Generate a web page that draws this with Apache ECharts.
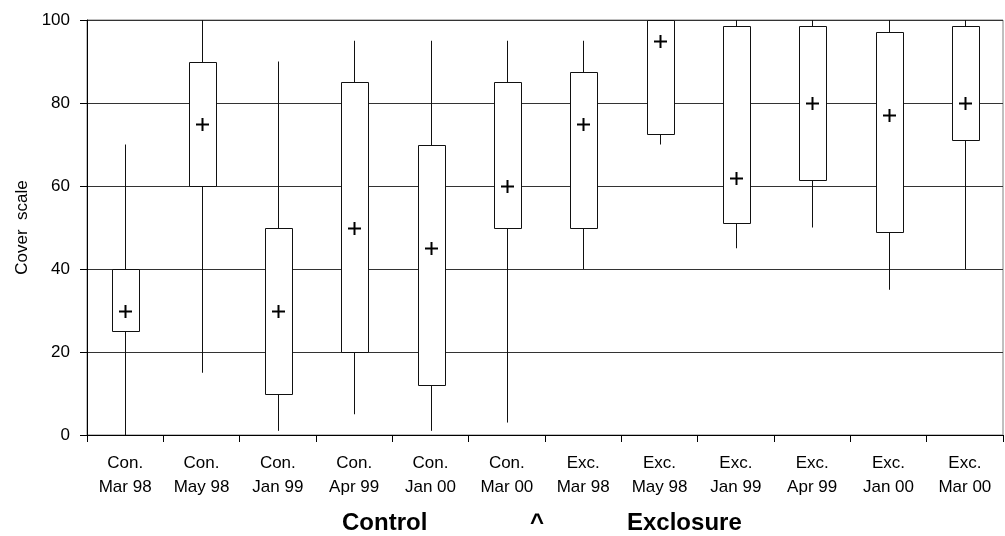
<!DOCTYPE html>
<html>
<head>
<meta charset="utf-8">
<script src="https://cdn.jsdelivr.net/npm/echarts@6/dist/echarts.min.js"></script>
<style>
  html, body { margin: 0; padding: 0; background: #fff; }
  #chart { width: 1005px; height: 536px; }
</style>
</head>
<body>
<div id="chart"></div>
<script>
// Sampling dates per treatment (Control, then Exclosure)
const categories = [
  'Con.\nMar 98', 'Con.\nMay 98', 'Con.\nJan 99', 'Con.\nApr 99', 'Con.\nJan 00', 'Con.\nMar 00',
  'Exc.\nMar 98', 'Exc.\nMay 98', 'Exc.\nJan 99', 'Exc.\nApr 99', 'Exc.\nJan 00', 'Exc.\nMar 00'
];
// Whisker ends, box ends and the central "+" value of each cover-scale distribution
const whiskerLow  = [0, 15, 1, 5, 1, 3, 40, 70, 45, 50, 35, 40];
const boxLow      = [25, 60, 10, 20, 12, 50, 50, 72.5, 51, 61.5, 49, 71];
const boxHigh     = [40, 90, 50, 85, 70, 85, 87.5, 100, 98.5, 98.5, 97, 98.5];
const whiskerHigh = [70, 100, 90, 95, 95, 95, 95, 100, 100, 100, 100, 100];
const centerMark  = [30, 75, 30, 50, 45, 60, 75, 95, 62, 80, 77, 80];
const yTicks = { min: 0, max: 100, interval: 20 };
const groupLabels = ['Control', '^', 'Exclosure'];

const FONT = '"Liberation Sans", Arial, sans-serif';

const boxData = categories.map((c, i) => [
  i, whiskerLow[i], boxLow[i], boxHigh[i], whiskerHigh[i], centerMark[i]
]);

function renderBox(params, api) {
  const i = api.value(0);
  const pLo = api.coord([i, api.value(1)]);
  const pQ1 = api.coord([i, api.value(2)]);
  const pQ3 = api.coord([i, api.value(3)]);
  const pHi = api.coord([i, api.value(4)]);
  const pMk = api.coord([i, api.value(5)]);
  const bw = api.size([1, 0])[0] * 0.36;
  const cx = Math.round(pLo[0]) + 0.5;
  const half = 6.5;
  const my = Math.round(pMk[1]) + 0.5;
  return {
    type: 'group',
    children: [
      {
        type: 'line',
        shape: { x1: cx, y1: pLo[1], x2: cx, y2: pHi[1] },
        style: { stroke: '#111', lineWidth: 1 }
      },
      {
        type: 'rect',
        shape: {
          x: Math.round(cx - bw / 2) + 0.5,
          y: Math.round(pQ3[1]) + 0.5,
          width: Math.round(bw),
          height: Math.round(pQ1[1]) - Math.round(pQ3[1])
        },
        style: { fill: '#fff', stroke: '#111', lineWidth: 1 }
      },
      {
        type: 'line',
        shape: { x1: cx - half, y1: my, x2: cx + half, y2: my },
        style: { stroke: '#000', lineWidth: 2 }
      },
      {
        type: 'line',
        shape: { x1: cx, y1: my - half, x2: cx, y2: my + half },
        style: { stroke: '#000', lineWidth: 2 }
      }
    ]
  };
}

const chart = echarts.init(document.getElementById('chart'), null, { renderer: 'canvas' });

chart.setOption({
  animation: false,
  backgroundColor: '#fff',
  grid: {
    left: 87, right: 2, top: 20, bottom: 101,
    show: true, borderColor: '#808080', borderWidth: 1, backgroundColor: 'transparent'
  },
  xAxis: {
    type: 'category',
    data: categories,
    boundaryGap: true,
    axisLine: { lineStyle: { color: '#000', width: 1 } },
    axisTick: { show: true, length: 7, inside: false, lineStyle: { color: '#000' } },
    axisLabel: {
      interval: 0, color: '#000', fontFamily: FONT, fontSize: 17,
      lineHeight: 24, margin: 16
    },
    splitLine: { show: false }
  },
  yAxis: {
    type: 'value',
    min: yTicks.min, max: yTicks.max, interval: yTicks.interval,
    name: 'Cover  scale',
    nameLocation: 'middle',
    nameGap: 55,
    nameTextStyle: { color: '#000', fontFamily: FONT, fontSize: 17 },
    axisLine: { show: true, lineStyle: { color: '#000', width: 1 } },
    axisTick: { show: true, length: 7, inside: false, lineStyle: { color: '#000' } },
    axisLabel: { color: '#000', fontFamily: FONT, fontSize: 17, margin: 17 },
    splitLine: { show: true, lineStyle: { color: '#333', width: 1 } }
  },
  graphic: [
    {
      type: 'text', left: 342, top: 511,
      style: { text: groupLabels[0], fill: '#000', font: 'bold 24px ' + FONT }
    },
    {
      type: 'text', left: 530, top: 511,
      style: { text: groupLabels[1], fill: '#000', font: 'bold 24px ' + FONT }
    },
    {
      type: 'text', left: 627, top: 511,
      style: { text: groupLabels[2], fill: '#000', font: 'bold 24px ' + FONT }
    }
  ],
  series: [
    {
      type: 'custom',
      renderItem: renderBox,
      data: boxData,
      encode: { x: 0, y: [1, 2, 3, 4, 5] },
      clip: false,
      z: 3
    }
  ]
});
</script>
</body>
</html>
